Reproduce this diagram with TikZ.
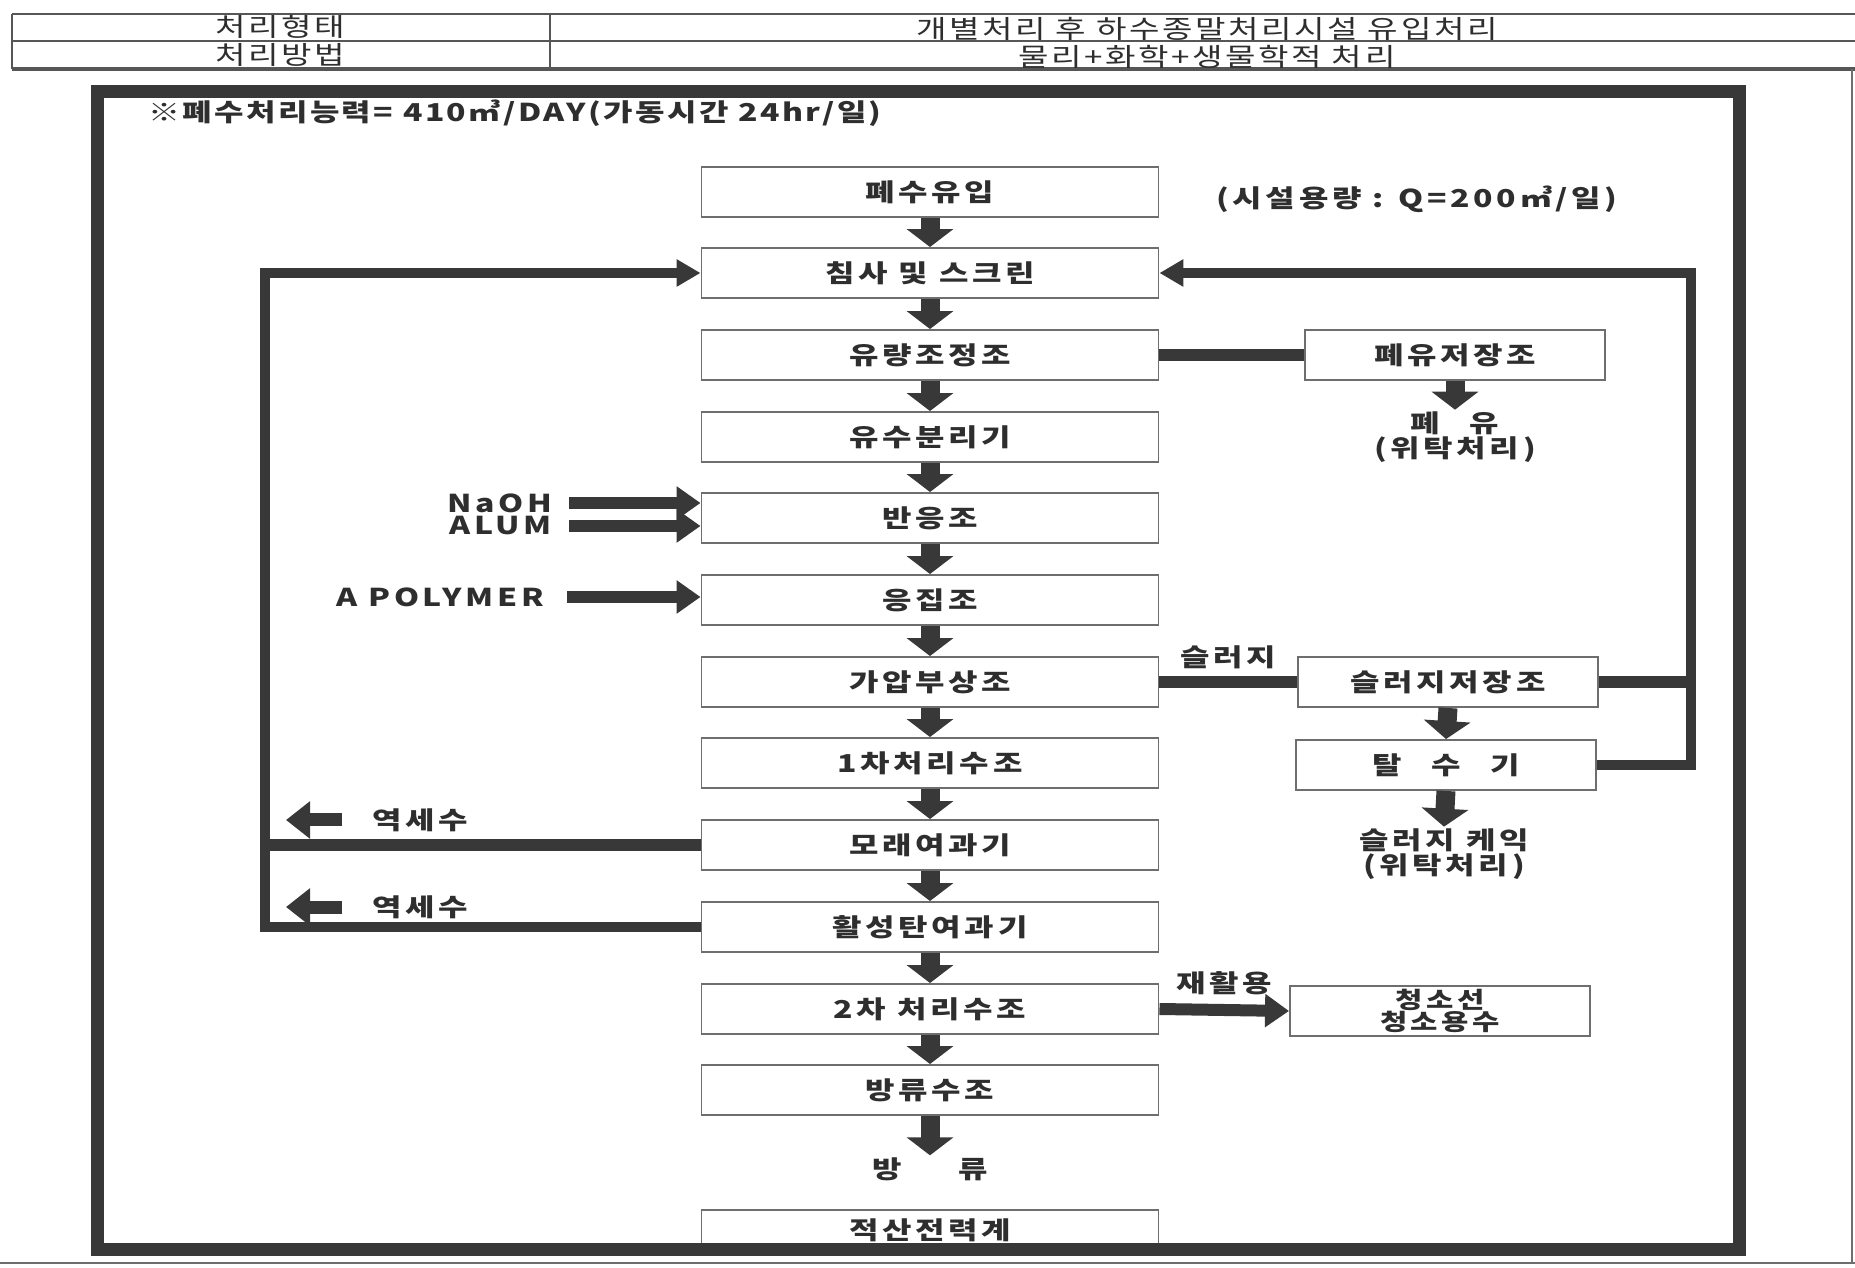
\documentclass[tikz,border=0pt]{standalone}
\usepackage{fontspec}
\setmainfont{Noto Sans CJK KR}[FakeStretch=1.3]
\newfontfamily\lblfam{Noto Sans CJK KR}[FakeStretch=1.3, LetterSpace=15]
\newfontfamily\capfam{Noto Sans CJK KR}[FakeStretch=1.3, LetterSpace=10]
\newfontfamily\tblfam{Noto Sans CJK KR}[FakeStretch=1.3, LetterSpace=10]
\usepackage{tikz}
\usetikzlibrary{arrows.meta}
\definecolor{ink}{HTML}{383838}
\definecolor{edgegray}{HTML}{6E6E6E}
\definecolor{txtgray}{HTML}{2E2E2E}
\newcommand{\boxfont}{\lblfam\bfseries\fontsize{14}{14}\selectfont}
\newcommand{\titlefont}{\capfam\bfseries\fontsize{14}{14}\selectfont}
\newcommand{\tblfont}{\tblfam\fontsize{14.5}{14}\selectfont}

\begin{document}
\begin{tikzpicture}[x=0.2mm, y=-0.2mm,
  box/.style={draw=edgegray, line width=1.1pt, fill=white, minimum width=9.14cm,
              minimum height=1cm, inner sep=0pt, align=center, text=txtgray, font=\boxfont},
  sbox/.style={box, minimum width=6cm},
  lbl/.style={text=txtgray, font=\boxfont, inner sep=1pt, align=center},
  tlbl/.style={text=txtgray, font=\tblfont, inner sep=0pt},
  flow/.style={draw=ink, line width=0.38cm, -{Triangle[width=0.92cm, length=0.36cm]}},
  feed/.style={draw=ink, line width=0.24cm, -{Triangle[width=0.64cm, length=0.48cm]}},
  back/.style={draw=ink, line width=0.26cm, -{Triangle[width=0.72cm, length=0.48cm]}},
  conn/.style={draw=ink, line width=0.23cm},
  ret/.style={conn, line width=0.2cm, -{Triangle[width=0.52cm, length=0.48cm]}},
  tline/.style={draw=ink!85, line width=1.4pt},
]
\useasboundingbox (0,0) rectangle (1855,1268);
\def\cx{930}
% header table
\draw[tline] (12,14) -- (1855,14);
\draw[tline, line width=1.1pt] (12,41) -- (1855,41);
\draw[tline, line width=2.2pt] (12,69) -- (1855,69);
\draw[tline] (12,14) -- (12,69);
\draw[tline] (550,14) -- (550,69);
\node[tlbl] (kind)    at (280,27)  {처리형태};
\node[tlbl] (method)  at (280,55)  {처리방법};
\node[tlbl] (kindval) at (1207,29) {개별처리 후 하수종말처리시설 유입처리};
\node[tlbl] (methval) at (1207,57) {물리+화학+생물학적 처리};
\draw[edgegray, line width=0.8pt] (0,1263) -- (1855,1263);
\draw[edgegray, line width=0.8pt] (1852,69) -- (1852,1263);

\node[lbl, anchor=west, font=\titlefont] (cap) at (146,113)
  {※폐수처리능력= 410㎥/DAY(가동시간 24hr/일)};
\node[lbl] (qcap) at (1417,199) {(시설용량 : Q=200㎥/일)};

% main line
\node[box] (inflow)  at (\cx,192)  {폐수유입};
\node[box] (screen)  at (\cx,273)  {침사 및 스크린};
\node[box] (equal)   at (\cx,355)  {유량조정조};
\node[box] (oilsep)  at (\cx,437)  {유수분리기};
\node[box] (react)   at (\cx,518)  {반응조};
\node[box] (coag)    at (\cx,600)  {응집조};
\node[box] (daf)     at (\cx,682)  {가압부상조};
\node[box] (first)   at (\cx,763)  {1차처리수조};
\node[box] (sand)    at (\cx,845)  {모래여과기};
\node[box] (carbon)  at (\cx,927)  {활성탄여과기};
\node[box] (second)  at (\cx,1009) {2차 처리수조};
\node[box] (outtank) at (\cx,1090) {방류수조};
\node[lbl] (dis)     at (\cx,1169) {방\hspace{2.3em}류};
\node[box, minimum height=0.8cm] (meter) at (\cx,1230) {적산전력계};
\foreach \u/\v in {inflow/screen,screen/equal,equal/oilsep,oilsep/react,react/coag,
                   coag/daf,daf/first,first/sand,sand/carbon,carbon/second,
                   second/outtank,outtank/dis}
  \draw[flow] (\u.south) -- (\v.north);

% chemicals
\node[lbl, anchor=east] (naoh) at (554,503) {NaOH};
\node[lbl, anchor=east] (alum) at (554,526) {ALUM};
\node[lbl, anchor=east] (poly) at (546,597) {A POLYMER};
\draw[feed] ([xshift=0.3cm]naoh.east) -- (naoh.east -| react.west);
\draw[feed] ([xshift=0.3cm]alum.east) -- (alum.east -| react.west);
\draw[feed] ([xshift=0.42cm]poly.east) -- (poly.east -| coag.west);

% oil and sludge side
\node[sbox] (oiltank) at (1455,355) {폐유저장조};
\node[lbl]  (oilout)  at (1455,437) {폐\hspace{1.2em}유\\(위탁처리)};
\node[sbox] (sludge)  at (1448,682) {슬러지저장조};
\node[sbox] (dewater) at (1446,765) {탈\hspace{1.2em}수\hspace{1.2em}기};
\node[lbl]  (cake)    at (1444,854) {슬러지 케익\\(위탁처리)};
\node[sbox, font=\lblfam\bfseries\fontsize{13}{12.5}\selectfont] (reuse) at (1440,1011) {청소선\\청소용수};
\draw[conn] (equal.east) -- (oiltank.west);
\draw[flow] (oiltank.south) -- (oilout.north);
\draw[conn] (daf.east) -- node[lbl, above=3pt] {슬러지} (sludge.west);
\draw[flow] (sludge.south) -- (dewater.north);
\draw[flow] (dewater.south) -- (cake.north);
\coordinate (rtop) at (1691,273);
\draw[ret] (dewater.east) -| (rtop) -- (screen.east);
\draw[conn] (sludge.east) -- (sludge.east -| rtop);
\draw[feed] (second.east) -- node[lbl, above=4pt] {재활용} (reuse.west);

% backwash return
\coordinate (ltop) at (265,273);
\draw[ret] (carbon.west) -| (ltop) -- (screen.west);
\draw[conn] (sand.west) -- (sand.west -| ltop);
\node[lbl] (bw1) at (420,820) {역세수};
\node[lbl] (bw2) at (420,907) {역세수};
\coordinate (bw1a) at (342,820);
\coordinate (bw1b) at (286,820);
\coordinate (bw2a) at (342,907);
\coordinate (bw2b) at (286,907);
\draw[back] (bw1a) -- (bw1b);
\draw[back] (bw2a) -- (bw2b);

% outer frame
\draw[ink, line width=0.26cm] (97,92) rectangle (1739,1249);
\end{tikzpicture}
\end{document}
